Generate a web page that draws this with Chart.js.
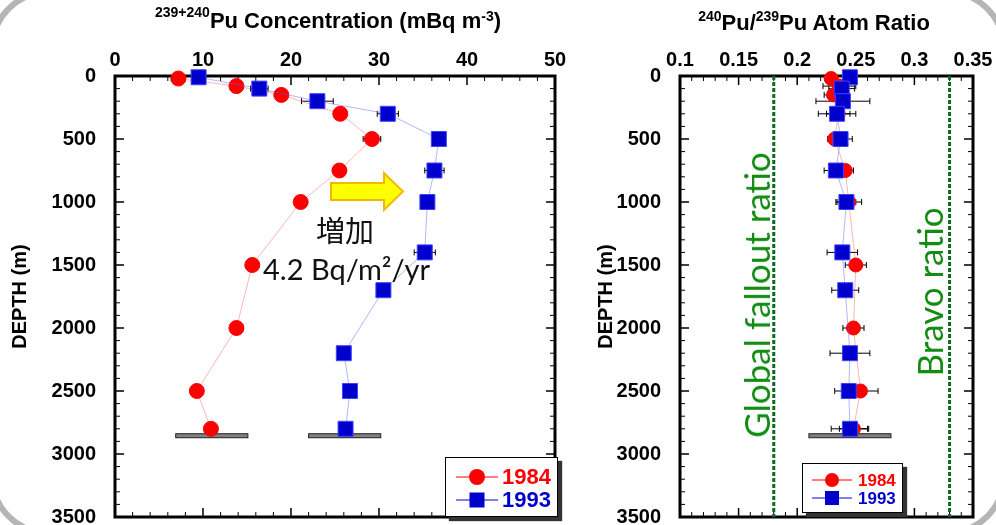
<!DOCTYPE html>
<html>
<head>
<meta charset="utf-8">
<script src="https://cdn.jsdelivr.net/npm/chart.js@4.4.1/dist/chart.umd.min.js"></script>
<style>
  body { margin: 0; background: #fff; width: 996px; height: 525px; overflow: hidden; position: relative; font-family: "Liberation Sans", Arial, sans-serif; }
  canvas { position: absolute; top: 0; }
  #concChart { left: 0; }
  #ratioChart { left: 580px; }
  .frame { position: absolute; left: -11px; top: -11px; width: 1018px; height: 547px; box-sizing: border-box; border: 6px solid #b5b5b5; border-radius: 60px; }
  .title { position: absolute; font-weight: bold; font-size: 22px; line-height: 22px; white-space: nowrap; transform: translateX(-50%); }
  .title sup { font-size: 14px; line-height: 0; }
  .note { position: absolute; white-space: nowrap; color: #111; }
  .green { position: absolute; white-space: nowrap; color: #128c12; font-family: Lato, "Noto Sans", sans-serif; font-size: 35px; transform: translate(-50%, -50%) rotate(-90deg); }
  .legend { position: absolute; background: #fff; border: 1.5px solid #000; box-shadow: 4px 4px 1px #333; box-sizing: border-box; }
  .legend svg { position: absolute; left: 0; top: 0; }
  .legend span { position: absolute; font-weight: bold; line-height: 1; transform: translateY(-50%); }
  #overlay { position: absolute; left: 0; top: 0; }
</style>
</head>
<body>
<div class="frame"></div>
<canvas id="concChart" width="580" height="525"></canvas>
<canvas id="ratioChart" width="416" height="525"></canvas>

<div class="title" style="left:328px; top:10px;"><sup style="vertical-align:11px">239+240</sup>Pu Concentration (mBq m<sup style="vertical-align:7px">-3</sup>)</div>
<div class="title" style="left:814px; top:12px;"><sup style="vertical-align:9px">240</sup>Pu/<sup style="vertical-align:9px">239</sup>Pu Atom Ratio</div>

<div class="note" style="left:316px; top:208px; font-family:'Noto Sans CJK JP', sans-serif; font-size:29px;">増加</div>
<div class="note" style="left:263px; top:251px; font-family:Lato, 'Noto Sans', sans-serif; font-size:29px;">4.2 Bq/m²/yr</div>

<div class="green" style="left:756px; top:295px;">Global fallout ratio</div>
<div class="green" style="left:929px; top:292px;">Bravo ratio</div>

<svg id="overlay" width="996" height="525">
  <polygon points="331,183 384,183 384,173 403,191.5 384,210 384,200 331,200" fill="#ffff00" stroke="#f2b800" stroke-width="2"/>
</svg>

<div class="legend" style="left:445px; top:457px; width:113px; height:60px;">
  <svg width="60" height="60">
    <line x1="10" y1="19" x2="52" y2="19" stroke="#ff0000" stroke-width="1"/>
    <circle cx="31" cy="19" r="8" fill="#ff0000"/>
    <line x1="10" y1="42" x2="52" y2="42" stroke="#0000cc" stroke-width="1"/>
    <rect x="23.5" y="34.5" width="15" height="15" fill="#0000cc"/>
  </svg>
  <span style="left:56px; top:19px; font-size:22px; color:#ff0000;">1984</span>
  <span style="left:56px; top:42px; font-size:22px; color:#0000cc;">1993</span>
</div>

<div class="legend" style="left:802px; top:463px; width:101px; height:50px;">
  <svg width="56" height="50">
    <line x1="9" y1="16" x2="49" y2="16" stroke="#ff0000" stroke-width="1"/>
    <circle cx="29" cy="16" r="7" fill="#ff0000"/>
    <line x1="9" y1="34" x2="49" y2="34" stroke="#0000cc" stroke-width="1"/>
    <rect x="22" y="27" width="14" height="14" fill="#0000cc"/>
  </svg>
  <span style="left:55px; top:16px; font-size:17px; color:#ff0000;">1984</span>
  <span style="left:55px; top:34px; font-size:17px; color:#0000cc;">1993</span>
</div>

<script>
// depths (m) of the samples
const depth84 = [20, 80, 150, 300, 500, 750, 1000, 1500, 2000, 2500, 2800];
const depth93 = [10, 100, 200, 300, 500, 750, 1000, 1400, 1700, 2200, 2500, 2800];

// 239+240Pu concentration, mBq/m3
const conc84 = [7.2, 13.8, 18.9, 25.6, 29.2, 25.5, 21.1, 15.6, 13.8, 9.3, 10.9];
const concErr84 = [0.8, 0, 0, 0, 1.0, 0, 0, 0, 0, 0, 0];
const conc93 = [9.5, 16.4, 23.0, 31.0, 36.8, 36.3, 35.5, 35.2, 30.5, 26.0, 26.7, 26.2];
const concErr93 = [0.6, 1.0, 1.8, 1.2, 0, 1.1, 0, 1.2, 0, 0, 0, 0];

// 240Pu/239Pu atom ratio
const ratio84 = [0.229, 0.236, 0.231, 0.235, 0.232, 0.241, 0.244, 0.250, 0.248, 0.254, 0.248];
const ratioErr84 = [0.005, 0.014, 0.008, 0.010, 0.006, 0.007, 0.011, 0.009, 0.009, 0.015, 0.012];
const ratio93 = [0.245, 0.238, 0.239, 0.234, 0.237, 0.233, 0.242, 0.2385, 0.241, 0.245, 0.244, 0.245];
const ratioErr93 = [0.006, 0.011, 0.023, 0.016, 0.010, 0.010, 0.008, 0.013, 0.0115, 0.017, 0.012, 0.016];

// reference ratios: global fallout, Bravo
const refRatios = [0.18, 0.33];

// sea floor
const seafloorDepth = 2855;
const seafloorConc = [[6.9, 15.1], [22.0, 30.2]];
const seafloorRatio = [[0.21, 0.28]];

// tick labels
const concTicks = [0, 10, 20, 30, 40, 50];
const ratioTicks = [0.1, 0.15, 0.2, 0.25, 0.3, 0.35];
const depthTicks = [0, 500, 1000, 1500, 2000, 2500, 3000, 3500];

const FONT = '"Liberation Sans", Arial, sans-serif';

const pts = (xs, ys) => xs.map((v, i) => ({x: v, y: ys[i]}));

// frame, inward ticks, sea floor and error bars
const framePlugin = {
  id: 'frameTicks',
  beforeDatasetsDraw(chart, args, opts) {
    const {ctx, chartArea: a, scales: {x, y}} = chart;
    ctx.save();
    ctx.strokeStyle = '#000';
    const ticks = (scale, minor, major, horiz) => {
      const n = Math.round((scale.max - scale.min) / minor);
      for (let i = 0; i <= n; i++) {
        const v = scale.min + i * minor;
        const big = Math.abs(v / major - Math.round(v / major)) < 1e-6;
        const len = big ? 9 : 5;
        ctx.lineWidth = big ? 1.5 : 1;
        const p = scale.getPixelForValue(v);
        ctx.beginPath();
        if (horiz) {
          ctx.moveTo(p, a.top); ctx.lineTo(p, a.top + len);
          ctx.moveTo(p, a.bottom); ctx.lineTo(p, a.bottom - len);
        } else {
          ctx.moveTo(a.left, p); ctx.lineTo(a.left + len, p);
          ctx.moveTo(a.right, p); ctx.lineTo(a.right - len, p);
        }
        ctx.stroke();
      }
    };
    ticks(x, opts.xMinor, opts.xMajor, true);
    ticks(y, opts.yMinor, opts.yMajor, false);
    ctx.lineWidth = 3;
    ctx.strokeRect(a.left, a.top, a.width, a.height);

    // sea floor
    const yb = y.getPixelForValue(opts.floorDepth);
    ctx.lineWidth = 1;
    ctx.fillStyle = '#808080';
    ctx.strokeStyle = '#222';
    opts.floor.forEach(r => {
      const x1 = x.getPixelForValue(r[0]), x2 = x.getPixelForValue(r[1]);
      ctx.fillRect(x1, yb - 2, x2 - x1, 4);
      ctx.strokeRect(x1, yb - 2, x2 - x1, 4);
    });

    // horizontal error bars
    ctx.strokeStyle = '#000';
    ctx.lineWidth = 1;
    chart.data.datasets.forEach((ds, i) => {
      if (!ds.xErr) return;
      const meta = chart.getDatasetMeta(i);
      meta.data.forEach((pt, j) => {
        const e = ds.xErr[j];
        if (!e) return;
        const v = ds.data[j].x;
        const x1 = x.getPixelForValue(v - e), x2 = x.getPixelForValue(v + e);
        ctx.beginPath();
        ctx.moveTo(x1, pt.y); ctx.lineTo(x2, pt.y);
        ctx.moveTo(x1, pt.y - 3); ctx.lineTo(x1, pt.y + 3);
        ctx.moveTo(x2, pt.y - 3); ctx.lineTo(x2, pt.y + 3);
        ctx.stroke();
      });
    });
    ctx.restore();
  }
};

function depthAxis(width, titlePad) {
  return {
    type: 'linear', reverse: true, min: 0, max: 3500,
    afterBuildTicks: s => { s.ticks = depthTicks.map(v => ({value: v})); },
    afterFit: s => { s.width = width; s.paddingTop = 0; s.paddingBottom = 0; },
    grid: {display: false},
    border: {display: false},
    ticks: {color: '#000', padding: 11, font: {family: FONT, size: 20, weight: 'bold'}, callback: v => String(v)},
    title: {display: true, text: 'DEPTH (m)', color: '#000', padding: {top: titlePad}, font: {family: FONT, size: 20, weight: 'bold'}}
  };
}

function topAxis(min, max, tickList) {
  return {
    type: 'linear', position: 'top', min: min, max: max,
    afterBuildTicks: s => { s.ticks = tickList.map(v => ({value: v})); },
    afterFit: s => { s.height = 76; s.paddingLeft = 0; s.paddingRight = 0; },
    grid: {display: false},
    border: {display: false},
    ticks: {color: '#000', padding: -4, maxRotation: 0, autoSkip: false, font: {family: FONT, size: 20, weight: 'bold'}, callback: v => String(v)}
  };
}

function series(label, xs, ys, err, isRed, r) {
  return {
    label: label,
    data: pts(xs, ys),
    xErr: err,
    showLine: true,
    borderWidth: 1,
    borderColor: isRed ? 'rgba(255,90,90,0.45)' : 'rgba(90,90,255,0.45)',
    pointStyle: isRed ? 'circle' : 'rect',
    pointRadius: r,
    pointBackgroundColor: isRed ? '#ff0000' : '#0000cc',
    pointBorderColor: isRed ? '#ff0000' : '#4040ff',
    pointBorderWidth: 1,
    order: isRed ? 1 : 0,
    clip: false
  };
}

const common = {
  responsive: false,
  animation: false,
  plugins: {legend: {display: false}, tooltip: {enabled: false}},
};

new Chart(document.getElementById('concChart'), {
  type: 'scatter',
  data: {
    datasets: [
      series('1993', conc93, depth93, concErr93, false, 10.6),
      series('1984', conc84, depth84, concErr84, true, 7.5)
    ]
  },
  options: {
    ...common,
    layout: {autoPadding: false, padding: {left: 0, top: 0, right: 25, bottom: 8}},
    plugins: {...common.plugins, frameTicks: {xMinor: 2, xMajor: 10, yMinor: 100, yMajor: 500, floorDepth: seafloorDepth, floor: seafloorConc}},
    scales: {x: topAxis(0, 50, concTicks), y: depthAxis(115, 8)}
  },
  plugins: [framePlugin]
});

new Chart(document.getElementById('ratioChart'), {
  type: 'scatter',
  data: {
    datasets: [
      series('1993', ratio93, depth93, ratioErr93, false, 10.6),
      series('1984', ratio84, depth84, ratioErr84, true, 7),
      ...refRatios.map(v => ({
        label: 'ref ' + v,
        data: [{x: v, y: 0}, {x: v, y: 3500}],
        showLine: true,
        borderColor: '#0b6a1e',
        borderWidth: 3,
        borderDash: [4, 2],
        pointRadius: 0,
        order: 2,
        clip: false
      }))
    ]
  },
  options: {
    ...common,
    layout: {autoPadding: false, padding: {left: 0, top: 0, right: 23, bottom: 8}},
    plugins: {...common.plugins, frameTicks: {xMinor: 0.01, xMajor: 0.05, yMinor: 100, yMajor: 500, floorDepth: seafloorDepth, floor: seafloorRatio}},
    scales: {x: topAxis(0.1, 0.35, ratioTicks), y: depthAxis(100, 14)}
  },
  plugins: [framePlugin]
});
</script>
</body>
</html>
